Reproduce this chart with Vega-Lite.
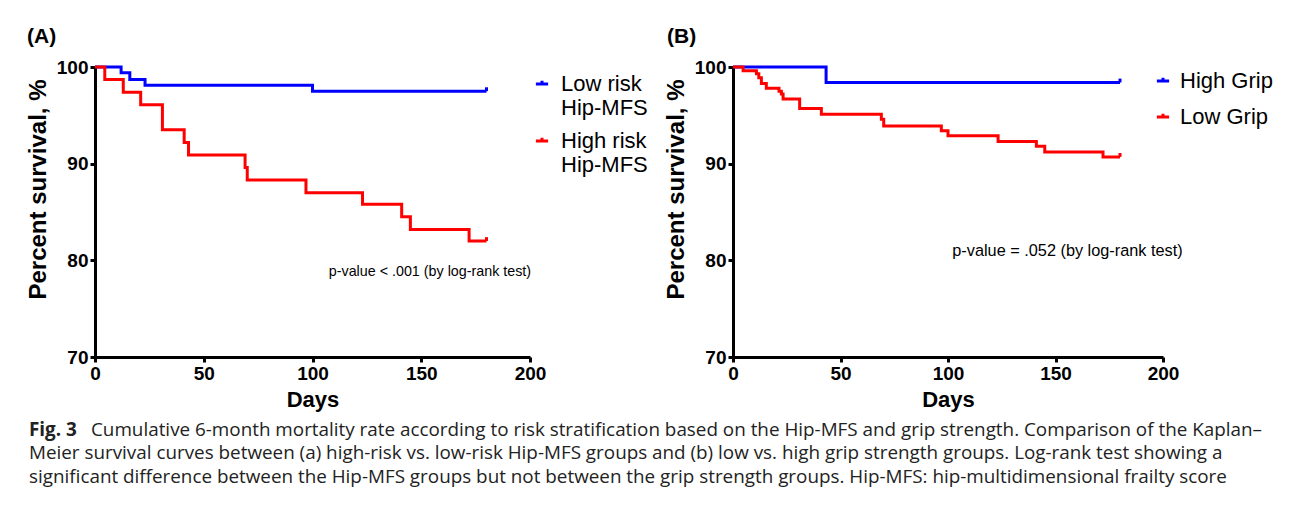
{
  "$schema": "https://vega.github.io/schema/vega-lite/v6.json",
  "background": "white",
  "padding": {"left": 26, "top": 26, "right": 5, "bottom": 5},
  "config": {
    "font": "Liberation Sans",
    "view": {"stroke": null},
    "axis": {
      "grid": false, "labelFlush": false,
      "domainColor": "black", "domainWidth": 3,
      "tickColor": "black", "tickWidth": 3, "tickSize": 5,
      "labelFont": "Liberation Sans", "labelFontWeight": "bold", "labelFontSize": 19, "labelColor": "black",
      "titleFont": "Liberation Sans", "titleFontWeight": "bold", "titleFontSize": 22, "titleColor": "black"
    },
    "axisX": {"labelPadding": 2, "titlePadding": 6},
    "axisY": {"labelPadding": 2, "titlePadding": 6, "titleFontSize": 24, "titleY": 122},
    "legend": {
      "title": null, "orient": "right", "padding": 0,
      "labelFont": "Liberation Sans", "labelFontSize": 22, "labelColor": "black",
      "symbolType": "M-1,0H1M0,0V-0.55", "symbolSize": 150, "symbolStrokeWidth": 3,
      "symbolFillColor": "transparent"
    }
  },
  "vconcat": [
    {
      "hconcat": [
        {
          "width": 435, "height": 290,
          "title": {"text": "(A)", "anchor": "start", "frame": "group", "fontSize": 21, "fontWeight": "bold", "font": "Liberation Sans", "color": "black", "dx": -68, "offset": 11},
          "data": {"values": [
            {"group": "Low risk Hip-MFS", "day": 0, "pct": 100},
            {"group": "Low risk Hip-MFS", "day": 12, "pct": 99.4},
            {"group": "Low risk Hip-MFS", "day": 16, "pct": 98.7},
            {"group": "Low risk Hip-MFS", "day": 23, "pct": 98.1},
            {"group": "Low risk Hip-MFS", "day": 100, "pct": 97.5},
            {"group": "Low risk Hip-MFS", "day": 180, "pct": 97.5, "censored": true},
            {"group": "High risk Hip-MFS", "day": 0, "pct": 100},
            {"group": "High risk Hip-MFS", "day": 4.5, "pct": 98.7},
            {"group": "High risk Hip-MFS", "day": 13, "pct": 97.4},
            {"group": "High risk Hip-MFS", "day": 21, "pct": 96.1},
            {"group": "High risk Hip-MFS", "day": 31, "pct": 93.5},
            {"group": "High risk Hip-MFS", "day": 41, "pct": 92.2},
            {"group": "High risk Hip-MFS", "day": 43, "pct": 90.9},
            {"group": "High risk Hip-MFS", "day": 69, "pct": 89.6},
            {"group": "High risk Hip-MFS", "day": 70, "pct": 88.3},
            {"group": "High risk Hip-MFS", "day": 97, "pct": 87.0},
            {"group": "High risk Hip-MFS", "day": 123, "pct": 85.8},
            {"group": "High risk Hip-MFS", "day": 141, "pct": 84.5},
            {"group": "High risk Hip-MFS", "day": 145, "pct": 83.2},
            {"group": "High risk Hip-MFS", "day": 172, "pct": 82.0},
            {"group": "High risk Hip-MFS", "day": 180, "pct": 82.0, "censored": true}
          ]},
          "encoding": {
            "x": {"field": "day", "type": "quantitative", "title": "Days", "scale": {"domain": [0, 200], "nice": false}, "axis": {"values": [0, 50, 100, 150, 200]}},
            "y": {"field": "pct", "type": "quantitative", "title": "Percent survival, %", "scale": {"domain": [70, 100], "nice": false, "zero": false}, "axis": {"values": [70, 80, 90, 100]}},
            "color": {"field": "group", "type": "nominal", "sort": ["Low risk Hip-MFS", "High risk Hip-MFS"],
              "scale": {"domain": ["Low risk Hip-MFS", "High risk Hip-MFS"], "range": ["#0000ff", "#ff0000"]},
              "legend": {"orient": "none", "legendX": 436, "legendY": 6, "labelOffset": 8, "rowPadding": 11, "labelExpr": "split(replace(datum.label, ' Hip', '|Hip'), '|')"}}
          },
          "layer": [
            {"mark": {"type": "line", "interpolate": "step-after", "strokeWidth": 3}},
            {"transform": [{"filter": "datum.censored"}], "mark": {"type": "point", "shape": "M0,0V-1", "size": 60, "filled": false, "strokeWidth": 3, "opacity": 1}},
            {"data": {"values": [{"note": "p-value < .001 (by log-rank test)", "day": 107.5, "pct": 78.8}]},
             "mark": {"type": "text", "align": "left", "baseline": "middle", "fontSize": 14.3, "font": "Liberation Sans", "color": "black"},
             "encoding": {"x": {"field": "day", "type": "quantitative"}, "y": {"field": "pct", "type": "quantitative"}, "text": {"field": "note"}, "color": null}}
          ]
        },
        {
          "width": 430, "height": 290,
          "title": {"text": "(B)", "anchor": "start", "frame": "group", "fontSize": 21, "fontWeight": "bold", "font": "Liberation Sans", "color": "black", "dx": -66, "offset": 11},
          "data": {"values": [
            {"group": "High Grip", "day": 0, "pct": 100},
            {"group": "High Grip", "day": 43.3, "pct": 98.4},
            {"group": "High Grip", "day": 180, "pct": 98.4, "censored": true},
            {"group": "Low Grip", "day": 0, "pct": 100},
            {"group": "Low Grip", "day": 4.7, "pct": 99.6},
            {"group": "Low Grip", "day": 10.9, "pct": 99.3},
            {"group": "Low Grip", "day": 12, "pct": 98.9},
            {"group": "Low Grip", "day": 13.2, "pct": 98.3},
            {"group": "Low Grip", "day": 15.5, "pct": 97.8},
            {"group": "Low Grip", "day": 21.4, "pct": 97.5},
            {"group": "Low Grip", "day": 22.5, "pct": 97.2},
            {"group": "Low Grip", "day": 23.3, "pct": 96.7},
            {"group": "Low Grip", "day": 31, "pct": 95.7},
            {"group": "Low Grip", "day": 41.1, "pct": 95.1},
            {"group": "Low Grip", "day": 69, "pct": 94.6},
            {"group": "Low Grip", "day": 70.1, "pct": 93.9},
            {"group": "Low Grip", "day": 96.9, "pct": 93.4},
            {"group": "Low Grip", "day": 100, "pct": 92.9},
            {"group": "Low Grip", "day": 123.3, "pct": 92.3},
            {"group": "Low Grip", "day": 141.1, "pct": 91.8},
            {"group": "Low Grip", "day": 145, "pct": 91.2},
            {"group": "Low Grip", "day": 172.1, "pct": 90.7},
            {"group": "Low Grip", "day": 180, "pct": 90.7, "censored": true}
          ]},
          "encoding": {
            "x": {"field": "day", "type": "quantitative", "title": "Days", "scale": {"domain": [0, 200], "nice": false}, "axis": {"values": [0, 50, 100, 150, 200]}},
            "y": {"field": "pct", "type": "quantitative", "title": "Percent survival, %", "scale": {"domain": [70, 100], "nice": false, "zero": false}, "axis": {"values": [70, 80, 90, 100]}},
            "color": {"field": "group", "type": "nominal", "sort": ["High Grip", "Low Grip"],
              "scale": {"domain": ["High Grip", "Low Grip"], "range": ["#0000ff", "#ff0000"]},
              "legend": {"orient": "none", "legendX": 419, "legendY": 3, "labelOffset": 6, "rowPadding": 14}}
          },
          "layer": [
            {"mark": {"type": "line", "interpolate": "step-after", "strokeWidth": 3}},
            {"transform": [{"filter": "datum.censored"}], "mark": {"type": "point", "shape": "M0,0V-1", "size": 60, "filled": false, "strokeWidth": 3, "opacity": 1}},
            {"data": {"values": [{"note": "p-value = .052 (by log-rank test)", "day": 102, "pct": 81.0}]},
             "mark": {"type": "text", "align": "left", "baseline": "middle", "fontSize": 16.3, "font": "Liberation Sans", "color": "black"},
             "encoding": {"x": {"field": "day", "type": "quantitative"}, "y": {"field": "pct", "type": "quantitative"}, "text": {"field": "note"}, "color": null}}
          ]
        }
      ],
      "spacing": 16,
      "resolve": {"scale": {"color": "independent"}, "legend": {"color": "independent"}}
    },
    {
      "width": 100,
      "height": {"step": 23.5},
      "data": {"values": [
        {"line": 1, "part": "label", "text": "Fig. 3"},
        {"line": 1, "part": "body", "text": "Cumulative 6-month mortality rate according to risk stratification based on the Hip-MFS and grip strength. Comparison of the Kaplan–"},
        {"line": 2, "part": "body", "text": "Meier survival curves between (a) high-risk vs. low-risk Hip-MFS groups and (b) low vs. high grip strength groups. Log-rank test showing a"},
        {"line": 3, "part": "body", "text": "significant difference between the Hip-MFS groups but not between the grip strength groups. Hip-MFS: hip-multidimensional frailty score"}
      ]},
      "encoding": {
        "y": {"field": "line", "type": "ordinal", "axis": null},
        "x": {"datum": 0, "type": "quantitative", "scale": {"domain": [0, 1]}, "axis": null},
        "text": {"field": "text"}
      },
      "layer": [
        {"transform": [{"filter": "datum.part == 'label'"}], "mark": {"type": "text", "align": "left", "baseline": "middle", "font": "Open Sans", "fontSize": 18.85, "fontWeight": "bold", "dx": -66, "color": "#222"}},
        {"transform": [{"filter": "datum.part == 'body' && datum.line == 1"}], "mark": {"type": "text", "align": "left", "baseline": "middle", "font": "Open Sans", "fontSize": 18.85, "dx": -4, "color": "#222"}},
        {"transform": [{"filter": "datum.part == 'body' && datum.line > 1"}], "mark": {"type": "text", "align": "left", "baseline": "middle", "font": "Open Sans", "fontSize": 18.85, "dx": -66, "color": "#222"}}
      ]
    }
  ],
  "spacing": 8
}
